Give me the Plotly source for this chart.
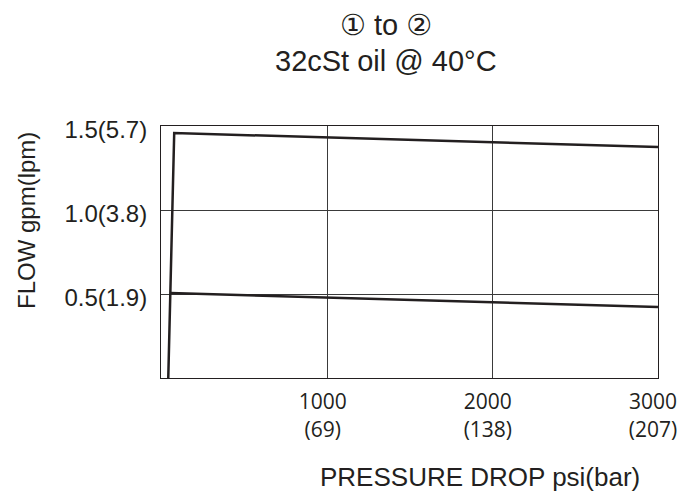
import plotly.graph_objects as go

# Data (psi, gpm)
upper_x = [35, 71, 3000]
upper_y = [0.0, 1.458, 1.375]
lower_x = [48, 3000]
lower_y = [0.506, 0.423]

x_tickvals = [1000, 2000, 3000]
x_ticktext = ["1000<br>(69)", "2000<br>(138)", "3000<br>(207)"]
y_tickvals = [0.5, 1.0, 1.5]
y_ticktext = ["0.5(1.9)", "1.0(3.8)", "1.5(5.7)"]

title_lines = ["① to ②", "32cSt oil @ 40°C"]
x_title = "PRESSURE DROP psi(bar)"
y_title = "FLOW gpm(lpm)"

# page body has an 8px default margin; figure is sized to fit the window
OFF = 8
W, H = 686 - OFF, 496 - OFF
L, R, T, B = 161 - OFF, 686 - 658, 126 - OFF, H - (378 - OFF)
PW, PH = W - L - R, H - T - B


def px(xw):
    return (xw - OFF - L) / PW


def py(yw):
    return (H - B - (yw - OFF)) / PH


ink = "#231f20"
fig = go.Figure()
fig.add_trace(go.Scatter(x=upper_x, y=upper_y, mode="lines",
                         line=dict(color=ink, width=2.5), showlegend=False, hoverinfo="skip"))
fig.add_trace(go.Scatter(x=lower_x, y=lower_y, mode="lines",
                         line=dict(color=ink, width=2.5), showlegend=False, hoverinfo="skip"))

sans = "Liberation Sans, Arial, DejaVu Sans, sans-serif"
fig.update_layout(
    width=W, height=H,
    margin=dict(l=L, r=R, t=T, b=B, autoexpand=False),
    paper_bgcolor="white", plot_bgcolor="white",
    xaxis=dict(range=[-9, 3000], tickvals=x_tickvals, ticktext=x_ticktext,
               showgrid=True, gridcolor="#3a3a3a", gridwidth=1,
               showline=True, linecolor=ink, linewidth=1, mirror=True,
               ticks="", zeroline=False, ticklabelstandoff=5, ticklabelshift=-5,
               automargin=False, ticklabeloverflow="allow",
               tickfont=dict(family="Open Sans, Lato, sans-serif", size=21, color=ink)),
    yaxis=dict(range=[0, 1.5], tickvals=y_tickvals, ticktext=y_ticktext,
               showgrid=True, gridcolor="#3a3a3a", gridwidth=1,
               showline=True, linecolor=ink, linewidth=1, mirror=True,
               ticks="", zeroline=False, ticklabelstandoff=8, ticklabelshift=4,
               automargin=False,
               tickfont=dict(family=sans, size=24, color=ink)),
    annotations=[
        dict(text=title_lines[0], xref="paper", yref="paper", x=px(386), y=py(25),
             xanchor="center", yanchor="middle", showarrow=False,
             font=dict(family=sans, size=29, color=ink)),
        dict(text=title_lines[1], xref="paper", yref="paper", x=px(386), y=py(61),
             xanchor="center", yanchor="middle", showarrow=False,
             font=dict(family=sans, size=29, color=ink)),
        dict(text=x_title, xref="paper", yref="paper", x=px(480), y=py(477),
             xanchor="center", yanchor="middle", showarrow=False,
             font=dict(family=sans, size=26, color=ink)),
        dict(text=y_title, xref="paper", yref="paper", x=px(26), y=py(221),
             xanchor="center", yanchor="middle", showarrow=False, textangle=-90,
             font=dict(family=sans, size=24, color=ink)),
    ],
)

fig.write_html("out.html")
